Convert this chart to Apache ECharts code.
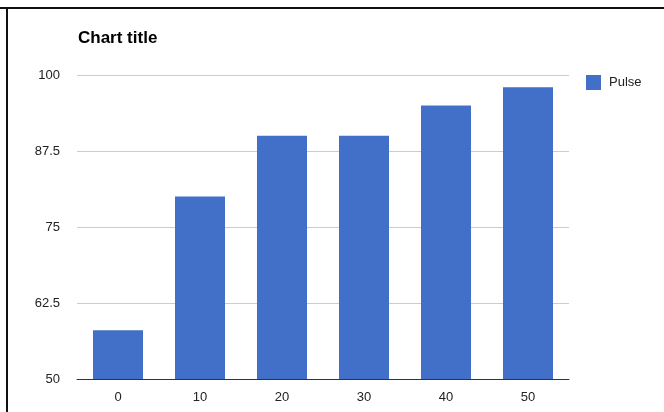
<!DOCTYPE html>
<html>
<head>
<meta charset="utf-8">
<script src="https://cdn.jsdelivr.net/npm/echarts@6/dist/echarts.min.js"></script>
<style>
  html, body { margin: 0; padding: 0; background: #fff; }
  #chart { width: 664px; height: 412px; }
</style>
</head>
<body>
<div id="chart"></div>
<script>
const categories = ['0', '10', '20', '30', '40', '50'];
const pulse = [58, 80, 90, 90, 95, 98];

const chart = echarts.init(document.getElementById('chart'));

const option = {
    animation: false,
    textStyle: { fontFamily: 'Liberation Sans, Arial, sans-serif' },
    // frame lines at top and left of the screenshot
    graphic: [
        { type: 'rect', shape: { x: 0, y: 7, width: 664, height: 2 }, style: { fill: '#111' } },
        { type: 'rect', shape: { x: 6, y: 7, width: 2, height: 405 }, style: { fill: '#111' } }
    ],
    title: {
        text: 'Chart title',
        left: 73,
        top: 25,
        textStyle: { fontSize: 17, fontWeight: 'bold', color: '#000' }
    },
    legend: {
        data: ['Pulse'],
        left: 581,
        top: 70,
        itemWidth: 15,
        itemHeight: 15,
        itemGap: 6,
        icon: 'rect',
        textStyle: { fontSize: 13, color: '#222', padding: [0, 0, 0, 3] }
    },
    grid: { left: 77, right: 95, top: 75, bottom: 33 },
    xAxis: {
        type: 'category',
        data: categories,
        axisTick: { show: false },
        axisLine: { lineStyle: { color: '#333', width: 1 } },
        axisLabel: { fontSize: 13, color: '#222', margin: 12 }
    },
    yAxis: {
        type: 'value',
        min: 50,
        max: 100,
        interval: 12.5,
        axisLine: { show: false },
        axisTick: { show: false },
        axisLabel: { fontSize: 13, color: '#222', margin: 17 },
        splitLine: { lineStyle: { color: '#ccc' } }
    },
    series: [{
        name: 'Pulse',
        type: 'bar',
        data: pulse,
        barWidth: '61%',
        itemStyle: { color: '#4270c8' }
    }]
};

chart.setOption(option);
</script>
</body>
</html>
